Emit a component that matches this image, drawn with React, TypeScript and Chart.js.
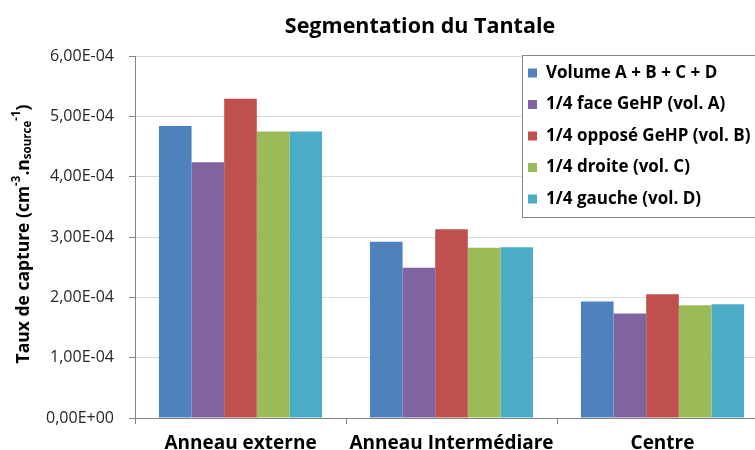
import React, { useEffect, useRef } from "react";
import { Chart, registerables } from "chart.js";

Chart.register(...registerables);

const FONT = "'Open Sans', 'Noto Sans', sans-serif";

const categories = ["Anneau externe", "Anneau Intermédiare", "Centre"];
const seriesLabels = [
  "Volume A + B + C + D",
  "1/4 face GeHP (vol. A)",
  "1/4 opposé GeHP (vol. B)",
  "1/4 droite (vol. C)",
  "1/4 gauche (vol. D)",
];
const seriesColors = ["#4F81BD", "#8064A2", "#C0504D", "#9BBB59", "#4BACC6"];
const volumeABCD = [4.84e-4, 2.92e-4, 1.93e-4];
const faceA = [4.24e-4, 2.49e-4, 1.73e-4];
const opposeB = [5.29e-4, 3.13e-4, 2.05e-4];
const droiteC = [4.75e-4, 2.82e-4, 1.87e-4];
const gaucheD = [4.75e-4, 2.83e-4, 1.885e-4];
const seriesValues = [volumeABCD, faceA, opposeB, droiteC, gaucheD];

const chartTitle = "Segmentation du Tantale";
const yTitleParts = [
  { t: "Taux de capture (cm", kind: "n" },
  { t: "-3", kind: "sup" },
  { t: ".n", kind: "n" },
  { t: "source", kind: "sub" },
  { t: "-1", kind: "sup" },
  { t: ")", kind: "n" },
];

function fmt(v: number): string {
  const [m, e] = Number(v).toExponential(2).split("e");
  const n = parseInt(e, 10);
  return m.replace(".", ",") + "E" + (n < 0 ? "-" : "+") + String(Math.abs(n)).padStart(2, "0");
}

export default function App() {
  const ref = useRef<HTMLCanvasElement>(null);

  useEffect(() => {
    if (!ref.current) return;

    const titlePlugin = {
      id: "titleCustom",
      afterDraw(chart: any) {
        const ctx = chart.ctx;
        ctx.save();
        ctx.font = `bold 21.5px ${FONT}`;
        ctx.fillStyle = "#000";
        ctx.textAlign = "center";
        ctx.textBaseline = "alphabetic";
        ctx.fillText(chartTitle, chart.width / 2, 33);
        ctx.restore();
      },
    };

    const yTitlePlugin = {
      id: "yTitleCustom",
      afterDraw(chart: any) {
        const ctx = chart.ctx;
        ctx.save();
        const sizeOf = (k: string) => (k === "n" ? 17.5 : 11.5);
        const dyOf = (k: string) => (k === "sup" ? -7 : k === "sub" ? 4 : 0);
        let total = 0;
        const widths = yTitleParts.map((p) => {
          ctx.font = `bold ${sizeOf(p.kind)}px ${FONT}`;
          const w = ctx.measureText(p.t).width;
          total += w;
          return w;
        });
        const cy = 234;
        ctx.translate(24, cy);
        ctx.rotate(-Math.PI / 2);
        ctx.fillStyle = "#000";
        ctx.textBaseline = "middle";
        ctx.textAlign = "left";
        let x = -total / 2;
        yTitleParts.forEach((p, i) => {
          ctx.font = `bold ${sizeOf(p.kind)}px ${FONT}`;
          ctx.fillText(p.t, x, dyOf(p.kind));
          x += widths[i];
        });
        ctx.restore();
      },
    };

    const legendPlugin = {
      id: "legendBox",
      afterDraw(chart: any) {
        const ctx = chart.ctx;
        const area = chart.chartArea;
        const x = 522;
        const y = area.top - 1;
        const w = 270;
        const h = 162;
        ctx.save();
        ctx.fillStyle = "#fff";
        ctx.fillRect(x, y, w, h);
        ctx.strokeStyle = "#868686";
        ctx.lineWidth = 1;
        ctx.strokeRect(x + 0.5, y + 0.5, w, h);
        ctx.font = `bold 17px ${FONT}`;
        ctx.textBaseline = "middle";
        ctx.textAlign = "left";
        chart.data.datasets.forEach((ds: any, i: number) => {
          const cy = y + 18 + i * 31.5;
          ctx.fillStyle = ds.backgroundColor;
          ctx.fillRect(x + 6, cy - 4.5, 9, 9);
          ctx.fillStyle = "#000";
          ctx.fillText(ds.label, x + 24, cy);
        });
        ctx.restore();
      },
    };

    const chart = new Chart(ref.current, {
      type: "bar",
      data: {
        labels: categories,
        datasets: seriesLabels.map((label, i) => ({
          label,
          data: seriesValues[i],
          backgroundColor: seriesColors[i],
          borderWidth: 0,
          categoryPercentage: 0.773,
          barPercentage: 1,
        })),
      },
      options: {
        responsive: false,
        animation: false,
        layout: { padding: { left: 0, right: 72, top: 56, bottom: 0 } },
        plugins: {
          legend: { display: false },
          tooltip: { enabled: false },
          title: { display: false },
        },
        scales: {
          x: {
            offset: true,
            grid: {
              display: true,
              offset: true,
              drawOnChartArea: false,
              tickLength: 6,
              tickColor: "#868686",
            },
            border: { color: "#868686" },
            ticks: {
              color: "#000",
              font: { family: FONT, size: 19, weight: "bold" },
              padding: 8,
            },
            afterFit(scale: any) {
              scale.height = 32;
            },
          },
          y: {
            min: 0,
            max: 6e-4,
            ticks: {
              stepSize: 1e-4,
              color: "#262626",
              font: { family: FONT, size: 16 },
              padding: 15,
              callback: (v: any) => fmt(Number(v)),
            },
            grid: { color: "#D9D9D9", tickLength: 6, tickColor: "#868686" },
            border: { color: "#868686" },
            afterFit(scale: any) {
              scale.width = 135;
            },
          },
        },
      },
      plugins: [titlePlugin, yTitlePlugin, legendPlugin],
    });

    return () => chart.destroy();
  }, []);

  return (
    <div
      style={{
        position: "absolute",
        left: 0,
        top: 0,
        width: 755,
        height: 450,
        overflow: "hidden",
        background: "#fff",
      }}
    >
      <canvas ref={ref} width={840} height={450} style={{ width: 840, height: 450, display: "block" }} />
    </div>
  );
}
